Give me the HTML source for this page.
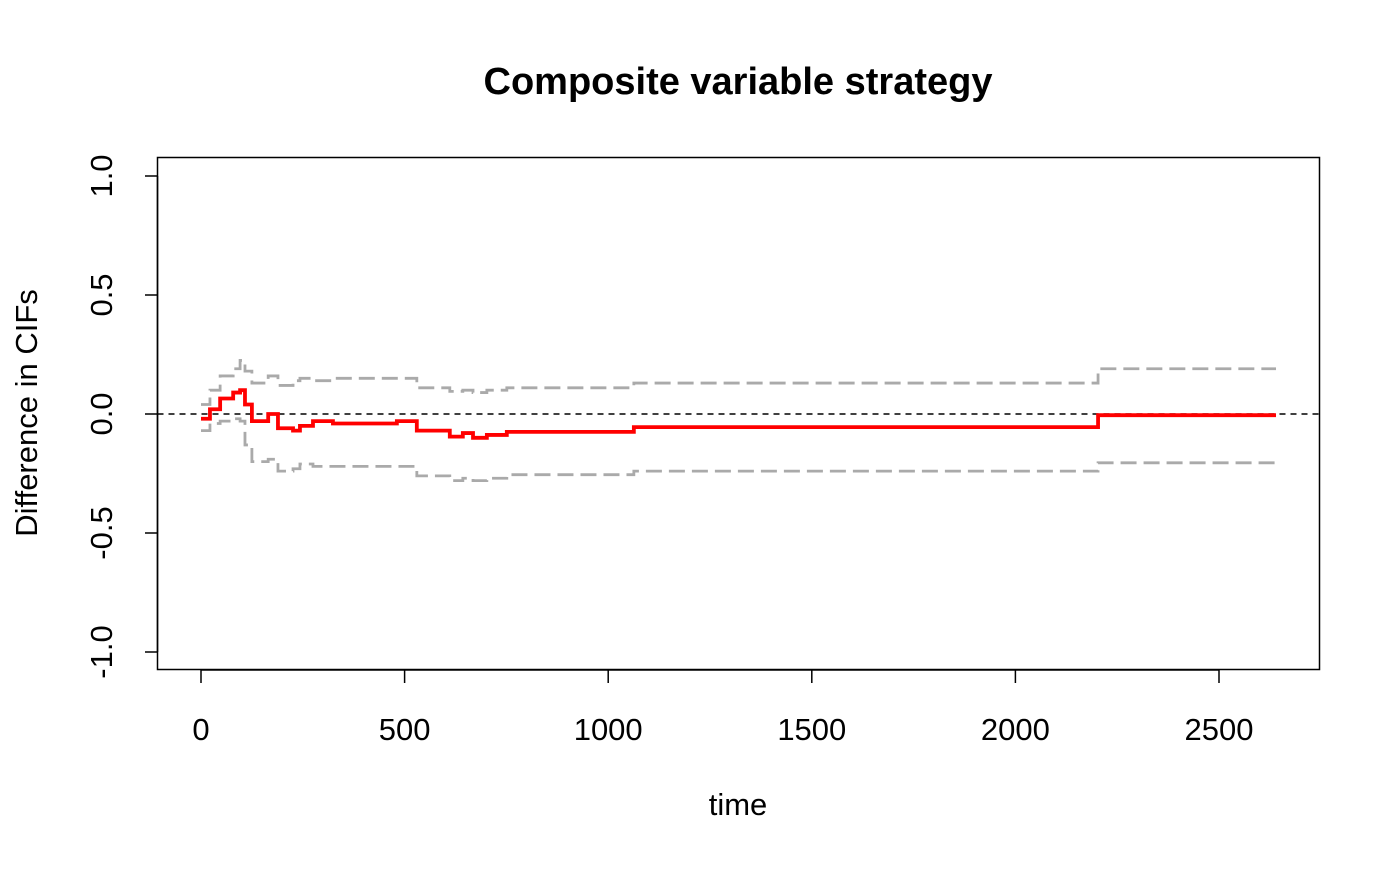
<!DOCTYPE html>
<html><head><meta charset="utf-8"><style>
body{margin:0;background:#fff;}
svg text{font-family:"Liberation Sans",Arial,sans-serif;fill:#000;}
</style></head><body>
<svg id="chart" width="1400" height="866" xmlns="http://www.w3.org/2000/svg">
<rect width="1400" height="866" fill="#fff"/>
<text x="738" y="94" font-size="38" font-weight="bold" text-anchor="middle">Composite variable strategy</text>
<rect x="157.5" y="157.5" width="1162" height="512" fill="none" stroke="#000" stroke-width="1.5"/>
<text x="738" y="815" font-size="31" text-anchor="middle">time</text>
<text transform="translate(37,413) rotate(-90)" font-size="31" text-anchor="middle">Difference in CIFs</text>
<g id="axes"></g>
<g id="series"></g>
</svg>
<script>
const times = [0,22,47,79,96,108,125,165,189,226,243,275,324,373,481,530,611,643,668,702,751,1063,2203];
const tEnd = 2640;
const estimate = [-0.02,0.02,0.065,0.09,0.10,0.04,-0.03,0,-0.06,-0.07,-0.05,-0.03,-0.04,-0.04,-0.03,-0.07,-0.095,-0.08,-0.10,-0.088,-0.075,-0.055,-0.005];
const upper = [0.04,0.10,0.16,0.19,0.225,0.18,0.13,0.16,0.12,0.14,0.15,0.14,0.15,0.15,0.15,0.11,0.095,0.10,0.09,0.10,0.11,0.13,0.19];
const lower = [-0.07,-0.04,-0.03,-0.02,-0.03,-0.13,-0.2,-0.19,-0.24,-0.23,-0.21,-0.22,-0.22,-0.22,-0.22,-0.26,-0.28,-0.27,-0.28,-0.27,-0.255,-0.24,-0.205];
const xTicks = [0,500,1000,1500,2000,2500];
const yTicks = [-1.0,-0.5,0.0,0.5,1.0];
const yTickLabels = ["-1.0","-0.5","0.0","0.5","1.0"];

const NS="http://www.w3.org/2000/svg";
const X = t => 201 + t*(1018/2500);
const Y = v => 414 - v*238;
function mk(tag, attrs, parent){const e=document.createElementNS(NS,tag);for(const k in attrs)e.setAttribute(k,attrs[k]);parent.appendChild(e);return e;}
const axes=document.getElementById('axes'), series=document.getElementById('series');

mk('line',{x1:X(xTicks[0]),x2:X(xTicks[xTicks.length-1]),y1:670,y2:670,stroke:'#000','stroke-width':1.5},axes);
xTicks.forEach(t=>{
  const l=mk('line',{x1:X(t),x2:X(t),y1:670,y2:683,stroke:'#000','stroke-width':1.5},axes);
  
  
  const tx=mk('text',{x:X(t),y:740,'font-size':31,'text-anchor':'middle'},axes);
  tx.textContent=t;
  
  
});
mk('line',{x1:157.5,x2:157.5,y1:Y(yTicks[0]),y2:Y(yTicks[yTicks.length-1]),stroke:'#000','stroke-width':1.5},axes);
yTicks.forEach((v,i)=>{
  const l=mk('line',{x1:145,x2:157.5,y1:Y(v),y2:Y(v),stroke:'#000','stroke-width':1.5},axes);
  
  
  const tx=mk('text',{transform:`translate(112,${Y(v)}) rotate(-90)`,'font-size':31,'text-anchor':'middle'},axes);
  tx.textContent=yTickLabels[i];
  
  
});

const zl=mk('line',{x1:157.5,x2:1319.5,y1:Y(0),y2:Y(0),stroke:'#000','stroke-width':1.5,'stroke-dasharray':'6 5'},series);



function stepPath(vals){
  let d=`M${X(times[0])},${Y(vals[0])}`;
  for(let i=1;i<times.length;i++){d+=` H${X(times[i])} V${Y(vals[i])}`;}
  d+=` H${X(tEnd)}`;return d;
}
const pu=mk('path',{d:stepPath(upper),fill:'none',stroke:'#aaaaaa','stroke-width':2.8,'stroke-dasharray':'16 7'},series);


const pl=mk('path',{d:stepPath(lower),fill:'none',stroke:'#aaaaaa','stroke-width':2.8,'stroke-dasharray':'16 7'},series);


const pe=mk('path',{d:stepPath(estimate),fill:'none',stroke:'#ff0000','stroke-width':3.8},series);


</script>
</body></html>
